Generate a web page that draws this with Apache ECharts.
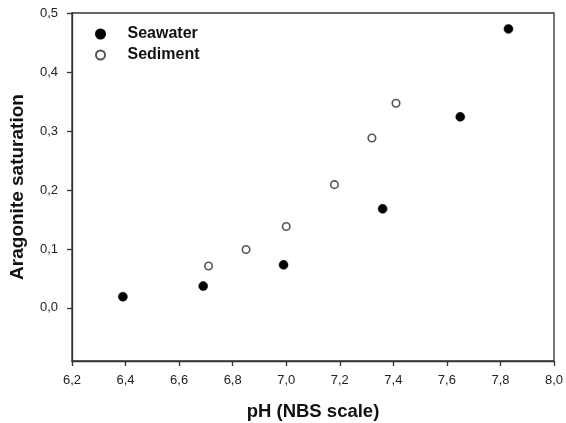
<!DOCTYPE html>
<html>
<head>
<meta charset="utf-8">
<script src="https://cdn.jsdelivr.net/npm/echarts@6/dist/echarts.min.js"></script>
<style>
  html, body { margin: 0; padding: 0; background: #fff; }
  #chart { width: 566px; height: 423px; }
</style>
</head>
<body>
<div id="chart"></div>
<script>
// pH (NBS scale) vs. aragonite saturation
const seawaterPH  = [6.39, 6.69, 6.99, 7.36, 7.65, 7.83];
const seawaterSat = [0.019, 0.037, 0.073, 0.168, 0.324, 0.473];
const sedimentPH  = [6.71, 6.85, 7.00, 7.18, 7.32, 7.41];
const sedimentSat = [0.071, 0.099, 0.138, 0.209, 0.288, 0.347];
const xTicks = [6.2, 6.4, 6.6, 6.8, 7.0, 7.2, 7.4, 7.6, 7.8, 8.0];
const yTicks = [0.0, 0.1, 0.2, 0.3, 0.4, 0.5];

const pairs = (xs, ys) => xs.map((x, i) => [x, ys[i]]);
const comma = v => v.toFixed(1).replace('.', ',');

const font = "'Liberation Sans', Arial, sans-serif";
const axisCommon = {
  axisLine: { show: true, onZero: false, lineStyle: { color: '#333', width: 1.3 } },
  axisTick: { show: true, inside: false, length: 5, lineStyle: { color: '#333', width: 1.3 } },
  splitLine: { show: false }
};

const chart = echarts.init(document.getElementById('chart'), null, { renderer: 'canvas' });
chart.setOption({
  animation: false,
  backgroundColor: '#fff',
  grid: {
    left: 72, right: 12, top: 13, bottom: 62,
    containLabel: false, outerBoundsMode: 'none',
    show: true, borderColor: '#333', borderWidth: 1.3, backgroundColor: 'transparent'
  },
  legend: {
    orient: 'vertical',
    left: 90, top: 21,
    itemWidth: 44, itemHeight: 9, itemGap: 5,
    icon: 'circle',
    textStyle: { fontFamily: font, fontWeight: 'bold', fontSize: 16, color: '#111' },
    data: ['Seawater', 'Sediment']
  },
  xAxis: Object.assign({}, axisCommon, {
    type: 'value', min: 6.2, max: 8.0,
    name: 'pH (NBS scale)', nameLocation: 'middle', nameGap: 41,
    nameTextStyle: { fontFamily: font, fontWeight: 'bold', fontSize: 18.5, color: '#111' },
    axisTick: Object.assign({}, axisCommon.axisTick, { customValues: xTicks }),
    axisLabel: { customValues: xTicks, formatter: comma, margin: 13, fontFamily: font, fontSize: 13, color: '#222' }
  }),
  yAxis: Object.assign({}, axisCommon, {
    type: 'value', min: -0.09, max: 0.5,
    name: 'Aragonite saturation', nameLocation: 'middle', nameGap: 45, nameRotate: 90,
    nameTextStyle: { fontFamily: font, fontWeight: 'bold', fontSize: 19, color: '#111' },
    axisTick: Object.assign({}, axisCommon.axisTick, { customValues: yTicks }),
    axisLabel: { customValues: yTicks, formatter: comma, margin: 14, fontFamily: font, fontSize: 13, color: '#222' }
  }),
  series: [
    {
      name: 'Seawater', type: 'scatter', symbol: 'circle', symbolSize: 9,
      itemStyle: { color: '#000', borderColor: '#000', borderWidth: 0.5, opacity: 1 },
      data: pairs(seawaterPH, seawaterSat)
    },
    {
      name: 'Sediment', type: 'scatter', symbol: 'circle', symbolSize: 7.5,
      itemStyle: { color: '#fff', borderColor: '#555', borderWidth: 1.6, opacity: 1 },
      data: pairs(sedimentPH, sedimentSat)
    }
  ]
});
</script>
</body>
</html>
